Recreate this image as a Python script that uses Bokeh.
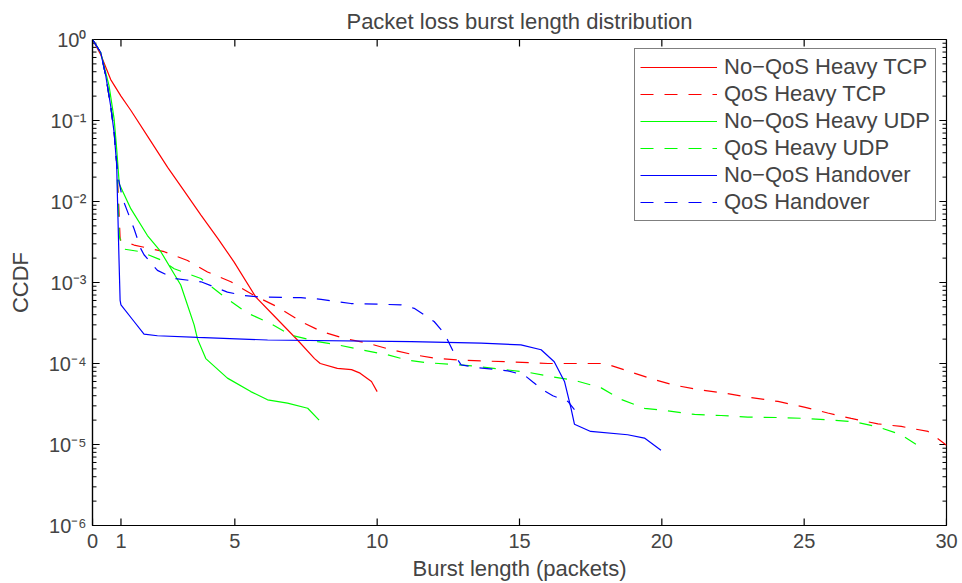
from bokeh.plotting import figure
from bokeh.models import (Range1d, FixedTicker, LogTicker, CustomJSTickFormatter,
                          Legend, LegendItem)
from bokeh.embed import file_html
from bokeh.resources import INLINE

# ---------------- data ----------------
x_ticks = [0, 1, 5, 10, 15, 20, 25, 30]
y_decades = [1e-6, 1e-5, 1e-4, 1e-3, 1e-2, 1e-1, 1e0]

x_nq_tcp = [0, 0.29, 0.64, 1.0, 1.35, 2.0, 2.64, 3.2, 3.81, 4.4, 4.97, 5.74, 6.4,
            7.2, 7.8, 8.0, 8.6, 9.1, 9.4, 9.8, 10.0]
y_nq_tcp = [1, 0.65, 0.32, 0.2, 0.133, 0.059, 0.0264, 0.0138, 6.8e-3, 3.5e-3,
            1.8e-3, 6.6e-4, 3.8e-4, 1.95e-4, 1.15e-4, 1.0e-4, 8.7e-5, 8.4e-5,
            7.6e-5, 6.0e-5, 4.5e-5]

x_q_tcp = [0, 0.29, 0.47, 0.64, 0.76, 0.85, 0.92, 0.97, 1.0, 1.46, 2.52, 3.34,
           4.04, 4.86, 5.68, 6.5, 7.32, 8.03, 8.84, 9.67, 10.49, 11.3, 12.13,
           13.18, 14.59, 16.0, 18.0, 18.8, 19.62, 20.44, 21.38, 22.2, 23.14,
           24.08, 25.0, 25.83, 26.65, 27.59, 28.41, 29.35, 30.0]
y_q_tcp = [1, 0.69, 0.35, 0.15, 0.071, 0.03, 0.0093, 3.5e-3, 3.3e-3, 2.9e-3,
           2.4e-3, 1.87e-3, 1.35e-3, 1.02e-3, 6.9e-4, 5.0e-4, 3.3e-4, 2.5e-4,
           2.04e-4, 1.78e-4, 1.48e-4, 1.28e-4, 1.15e-4, 1.09e-4, 1.05e-4,
           1.0e-4, 1.0e-4, 8.1e-5, 6.5e-5, 5.4e-5, 4.7e-5, 4.3e-5, 3.8e-5,
           3.4e-5, 2.9e-5, 2.45e-5, 2.1e-5, 1.8e-5, 1.67e-5, 1.45e-5, 9.8e-6]

x_nq_udp = [0, 0.29, 0.58, 0.76, 0.85, 0.94, 1.35, 1.93, 2.4, 3.1, 3.57, 3.69,
            3.98, 4.74, 5.56, 6.15, 6.85, 7.56, 7.96]
y_nq_udp = [1, 0.69, 0.27, 0.104, 0.044, 0.0165, 8.1e-3, 3.8e-3, 2.4e-3, 9.3e-4,
            3.0e-4, 2.0e-4, 1.15e-4, 6.6e-5, 4.5e-5, 3.56e-5, 3.24e-5, 2.8e-5,
            2.0e-5]

x_q_udp = [0, 0.29, 0.47, 0.64, 0.76, 0.85, 0.94, 1.05, 1.7, 2.4, 2.87, 3.81,
           4.6, 5.44, 6.27, 6.97, 7.91, 8.61, 9.43, 10.37, 11.07, 11.78, 12.59,
           13.41, 14.35, 15.29, 16.11, 16.93, 17.87, 18.57, 19.39, 20.21, 21.15,
           22.08, 23.02, 24.2, 25.0, 25.95, 26.77, 27.59, 28.41, 28.94]
y_q_udp = [1, 0.69, 0.35, 0.15, 0.075, 0.03, 3.8e-3, 2.6e-3, 2.4e-3, 1.9e-3,
           1.48e-3, 1.12e-3, 6.8e-4, 4.2e-4, 3.1e-4, 2.24e-4, 1.86e-4, 1.7e-4,
           1.48e-4, 1.28e-4, 1.1e-4, 1.02e-4, 9.8e-5, 9.3e-5, 8.5e-5, 7.8e-5,
           6.9e-5, 6.2e-5, 5.0e-5, 3.6e-5, 2.8e-5, 2.6e-5, 2.35e-5, 2.28e-5,
           2.18e-5, 2.15e-5, 2.1e-5, 2.0e-5, 1.9e-5, 1.65e-5, 1.32e-5, 1.0e-5]

x_nq_ho = [0, 0.29, 0.47, 0.64, 0.76, 0.85, 0.88, 0.93, 0.97, 1.0, 1.46, 1.81,
           2.28, 3.69, 6.15, 11.2, 13.65, 15.05, 15.76, 16.22, 16.58, 16.81,
           16.93, 17.5, 18.8, 19.39, 19.97]
y_nq_ho = [1, 0.69, 0.35, 0.15, 0.071, 0.028, 0.01, 2e-3, 6e-4, 5.3e-4, 3.3e-4,
           2.3e-4, 2.2e-4, 2.1e-4, 1.95e-4, 1.86e-4, 1.78e-4, 1.7e-4, 1.48e-4,
           1.05e-4, 6e-5, 2.8e-5, 1.78e-5, 1.45e-5, 1.32e-5, 1.2e-5, 8.5e-6]

x_q_ho = [0, 0.29, 0.47, 0.64, 0.76, 0.85, 0.9, 1.05, 1.46, 1.7, 1.81, 2.28,
          2.87, 3.81, 4.74, 5.33, 5.92, 7.32, 8.03, 9.08, 10.84, 11.3, 12.0,
          12.36, 12.53, 12.77, 12.95, 13.53, 14.59, 15.17, 15.47, 15.87, 16.17,
          16.7, 16.93]
y_q_ho = [1, 0.69, 0.35, 0.15, 0.071, 0.03, 0.02, 0.011, 4.6e-3, 2.6e-3, 2.2e-3,
          1.41e-3, 1.12e-3, 1.02e-3, 7.6e-4, 6.9e-4, 6.6e-4, 6.5e-4, 6.2e-4,
          5.5e-4, 5.3e-4, 4.8e-4, 3.3e-4, 2.35e-4, 1.78e-4, 1.2e-4, 9.6e-5,
          8.9e-5, 8.1e-5, 7.2e-5, 5.9e-5, 4.6e-5, 4.0e-5, 3.4e-5, 2.7e-5]

series_names = ["No\u2212QoS Heavy TCP", "QoS Heavy TCP", "No\u2212QoS Heavy UDP",
                "QoS Heavy UDP", "No\u2212QoS Handover", "QoS Handover"]
series_colors = ["#ff0000", "#ff0000", "#00ff00", "#00ff00", "#0000ff", "#0000ff"]
series_dashes = ["solid", "13 11", "solid", "13 11", "solid", "13 11"]

FONT = "Liberation Sans"
X0, X1, Y0, Y1 = 0, 30, 1e-6, 1.0

p = figure(width=962, height=583, output_backend="svg", toolbar_location=None,
           x_range=Range1d(X0, X1), y_range=Range1d(Y0, Y1),
           y_axis_type="log", x_axis_type="linear",
           min_border_left=92, min_border_right=16, min_border_top=37,
           min_border_bottom=58)

p.title.text = "Packet loss burst length distribution"
p.title.align = "center"
p.title.text_font = FONT
p.title.text_font_size = "22px"
p.title.text_font_style = "normal"
p.title.standoff = 12
p.title.offset = 0

p.grid.visible = False
p.outline_line_color = "black"
p.outline_line_width = 1.2
p.background_fill_color = "white"
p.border_fill_color = "white"

sup_js = """
const s = {"0":"\u2070","1":"\u00b9","2":"\u00b2","3":"\u00b3","4":"\u2074",
           "5":"\u2075","6":"\u2076","7":"\u2077","8":"\u2078","9":"\u2079","-":"\u207b"};
const e = Math.round(Math.log10(tick));
return "10" + String(e).split("").map(c => s[c]).join("");
"""

xa = p.xaxis[0]
xa.ticker = FixedTicker(ticks=x_ticks)
xa.axis_label = "Burst length (packets)"
ya = p.yaxis[0]
ya.ticker = LogTicker(num_minor_ticks=10)
ya.formatter = CustomJSTickFormatter(code=sup_js)
ya.axis_label = "CCDF"

for ax in (xa, ya):
    ax.axis_label_text_font = FONT
    ax.axis_label_text_font_size = "22px"
    ax.axis_label_text_font_style = "normal"
    ax.major_label_text_font = FONT
    ax.major_label_text_font_size = "20px"
    ax.major_tick_in = 0
    ax.major_tick_out = 0
    ax.minor_tick_in = 0
    ax.minor_tick_out = 0
    ax.major_tick_line_color = None
    ax.minor_tick_line_color = None
    ax.axis_line_width = 1.2
xa.major_label_standoff = 8
xa.axis_label_standoff = 5
ya.major_label_standoff = 6
ya.axis_label_standoff = 13

# inward tick marks on all four sides, as short segments along the frame edges
y_minor = [m * d for d in y_decades[:-1] for m in range(2, 10)]
n_x = len(x_ticks)
x_major_len = 0.25      # ~7 px along x
x_minor_len = 0.14      # ~4 px along x
y_fac = 1.22            # ~7 px along the log y axis
p.segment(x0=x_ticks, x1=x_ticks, y0=[Y0] * n_x, y1=[Y0 * y_fac] * n_x,
          line_color="black", line_width=1.2)
p.segment(x0=x_ticks, x1=x_ticks, y0=[Y1] * n_x, y1=[Y1 / y_fac] * n_x,
          line_color="black", line_width=1.2)
n_d = len(y_decades)
p.segment(x0=[X0] * n_d, x1=[X0 + x_major_len] * n_d, y0=y_decades, y1=y_decades,
          line_color="black", line_width=1.2)
p.segment(x0=[X1] * n_d, x1=[X1 - x_major_len] * n_d, y0=y_decades, y1=y_decades,
          line_color="black", line_width=1.2)
n_m = len(y_minor)
p.segment(x0=[X0] * n_m, x1=[X0 + x_minor_len] * n_m, y0=y_minor, y1=y_minor,
          line_color="black", line_width=1.0)
p.segment(x0=[X1] * n_m, x1=[X1 - x_minor_len] * n_m, y0=y_minor, y1=y_minor,
          line_color="black", line_width=1.0)

xs_all = [x_nq_tcp, x_q_tcp, x_nq_udp, x_q_udp, x_nq_ho, x_q_ho]
ys_all = [y_nq_tcp, y_q_tcp, y_nq_udp, y_q_udp, y_nq_ho, y_q_ho]

items = []
for xs, ys, name, col, dash in zip(xs_all, ys_all, series_names, series_colors, series_dashes):
    r = p.line(xs, ys, line_color=col, line_width=1.2, line_dash=dash)
    items.append(LegendItem(label=name, renderers=[r]))

legend = Legend(items=items, location=(542, 304), orientation="vertical",
                label_text_font=FONT, label_text_font_size="22px",
                glyph_width=77, glyph_height=22, label_height=22,
                label_standoff=7, spacing=1, padding=5, margin=0,
                border_line_color="black", border_line_width=1.2,
                background_fill_color="white", background_fill_alpha=1)
p.add_layout(legend, "center")

open("out.html", "w").write(file_html(p, INLINE))
